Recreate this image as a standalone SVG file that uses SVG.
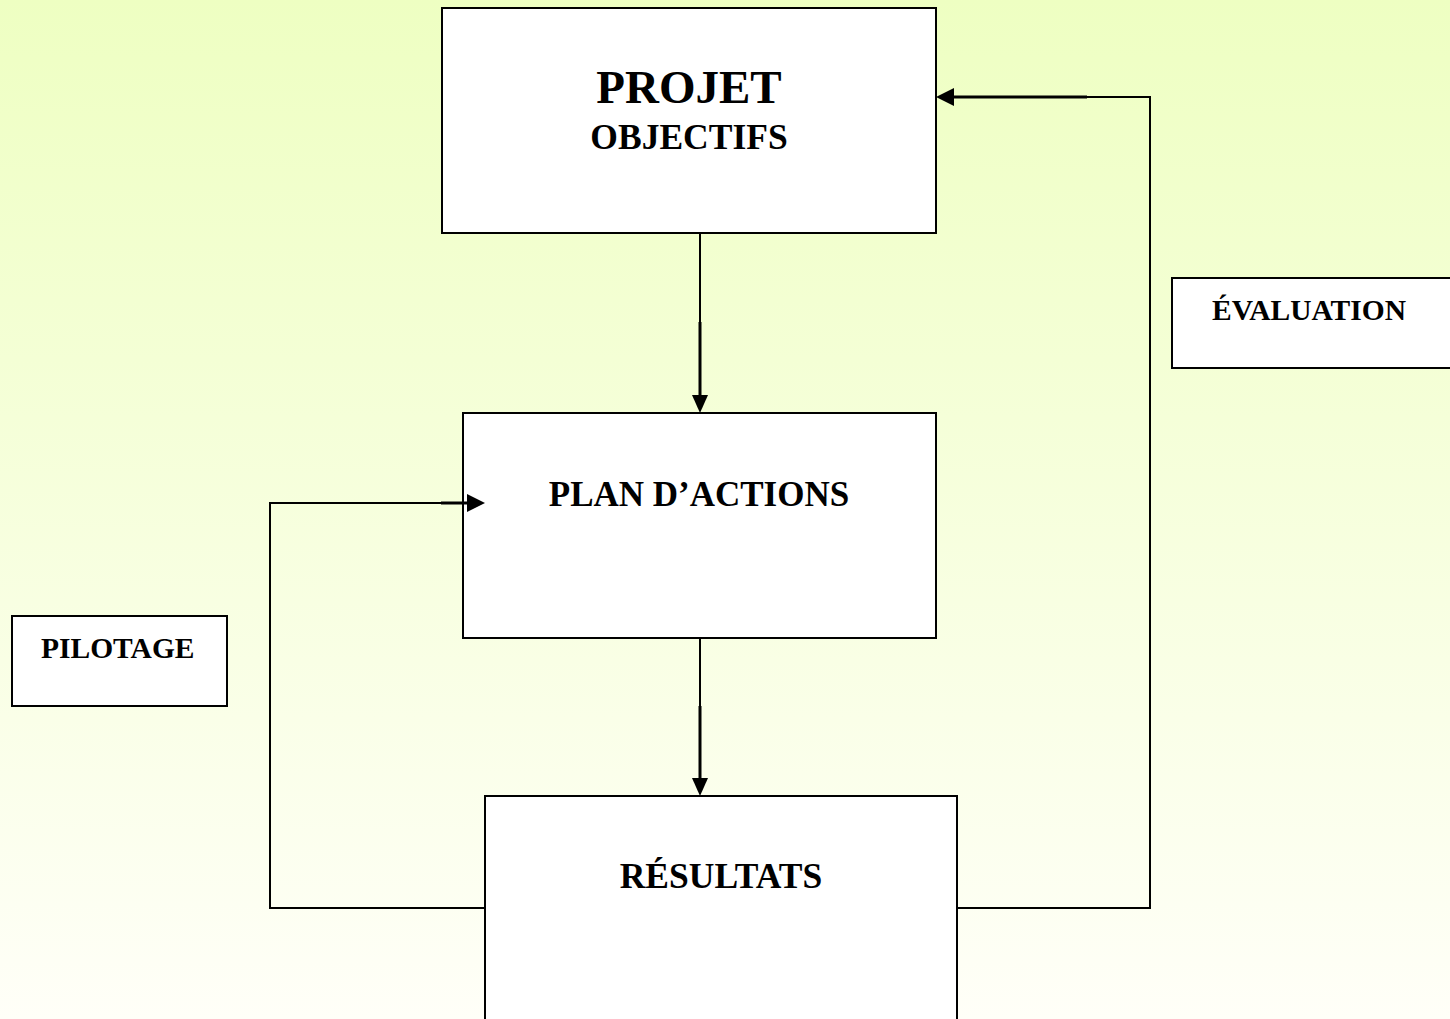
<svg xmlns="http://www.w3.org/2000/svg" width="1450" height="1019" viewBox="0 0 1450 1019">
<defs>
<linearGradient id="bg" x1="0" y1="0" x2="0" y2="1">
<stop offset="0" stop-color="#EEFFC2"/>
<stop offset="1" stop-color="#FFFFF8"/>
</linearGradient>
<style>
.box{fill:#fff;stroke:#000;stroke-width:2}
.ln{fill:none;stroke:#000;stroke-width:2}
.thk{fill:none;stroke:#000;stroke-width:3}
.head{fill:#000}
text{font-family:"Liberation Serif","Times New Roman",serif;font-weight:bold;fill:#000}
</style>
</defs>
<rect width="1450" height="1019" fill="url(#bg)"/>
<g id="projet">
<rect class="box" x="442" y="8" width="494" height="225"/>
<text x="689" y="103" font-size="47" text-anchor="middle">PROJET</text>
<text x="689" y="149" font-size="35.5" text-anchor="middle">OBJECTIFS</text>
</g>
<g id="plan">
<rect class="box" x="463" y="413" width="473" height="225"/>
<text x="699" y="506" font-size="35" text-anchor="middle">PLAN D’ACTIONS</text>
</g>
<g id="resultats">
<rect class="box" x="485" y="796" width="472" height="240"/>
<text x="721" y="888" font-size="35.5" text-anchor="middle">RÉSULTATS</text>
</g>
<g id="evaluation">
<rect class="box" x="1172" y="278" width="290" height="90"/>
<text x="1212" y="320" font-size="29.5">ÉVALUATION</text>
</g>
<g id="pilotage">
<rect class="box" x="12" y="616" width="215" height="90"/>
<text x="41" y="658" font-size="29.5">PILOTAGE</text>
</g>
<g id="connectors">
<line class="ln" x1="700" y1="233" x2="700" y2="322"/>
<line class="thk" x1="700" y1="322" x2="700" y2="398"/>
<path class="head" d="M692,395 L708,395 L700,413 z"/>
<line class="ln" x1="700" y1="638" x2="700" y2="706"/>
<line class="thk" x1="700" y1="706" x2="700" y2="781"/>
<path class="head" d="M692,778 L708,778 L700,796 z"/>
<polyline class="ln" points="957,908 1150,908 1150,97 1087,97"/>
<line class="thk" x1="1087" y1="97" x2="950" y2="97"/>
<path class="head" d="M954,88 L954,106 L936,97 z"/>
<polyline class="ln" points="485,908 270,908 270,503 441,503"/>
<line class="thk" x1="441" y1="503" x2="470" y2="503"/>
<path class="head" d="M467,494 L467,512 L485,503 z"/>
</g>
</svg>
